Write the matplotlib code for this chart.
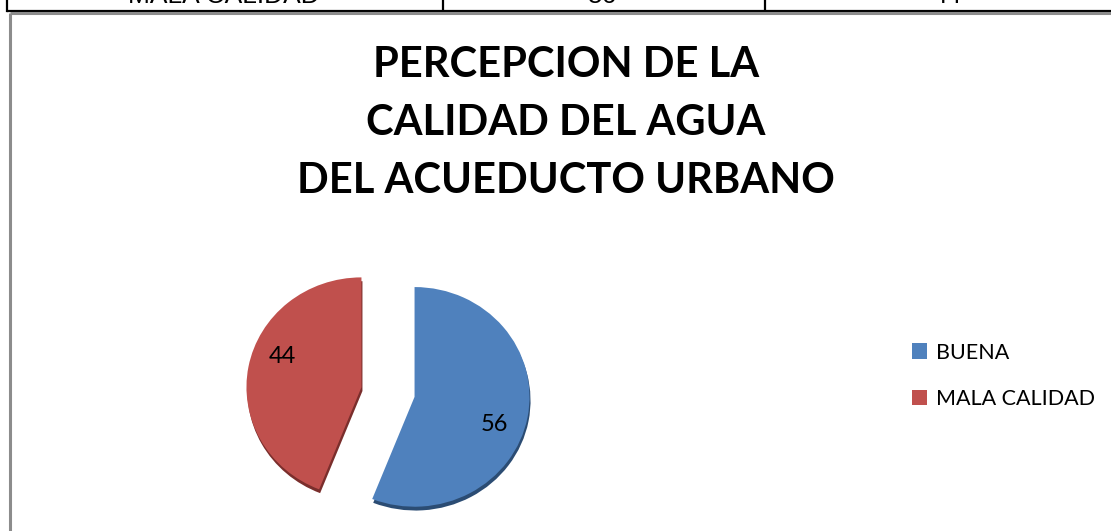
import numpy as np
import matplotlib.pyplot as plt

# datos de la encuesta
categorias = ['BUENA', 'MALA CALIDAD']
valores = [56, 44]
colores = ['#4F81BD', '#C0504D']
colores_borde = ['#2B4C73', '#7A2E2C']

titulo = 'PERCEPCION DE LA\nCALIDAD DEL AGUA\nDEL ACUEDUCTO URBANO'

# fila de la tabla que queda por encima del grafico
fila_tabla = ['MALA CALIDAD', '56', '44']

W, H = 1111, 531
fig = plt.figure(figsize=(W / 100, H / 100), dpi=100)
fig.patch.set_facecolor('white')
ax = fig.add_axes([0, 0, 1, 1])
ax.set_xlim(0, W)
ax.set_ylim(0, H)
ax.axis('off')

# tabla: ultima fila, cortada en el borde superior
ax.plot([7, W], [H - 10.5, H - 10.5], color='black', lw=1.6, solid_capstyle='butt')
for xv in [7, 443, 765]:
    ax.plot([xv, xv], [H - 10.5, H + 2], color='black', lw=1.6)
for xt, txt in zip([224, 603, 947], fila_tabla):
    ax.text(xt, H - 3, txt, ha='center', va='baseline', fontsize=19,
            family='Liberation Sans', color='black')

# marco del grafico
ax.plot([9.5, 9.5], [0, H - 12.5], color='#8C8C8C', lw=2.2, solid_capstyle='butt')
ax.plot([9.5, W], [H - 12.5, H - 12.5], color='#8C8C8C', lw=2.2, solid_capstyle='butt')

# titulo
ax.text(566, H - 123, titulo, ha='center', va='center', fontsize=30,
        family='Lato', fontweight='bold', linespacing=1.65, color='black')

# pastel en su propio eje, algo achatado en vertical (inclinacion 3D)
axp = fig.add_axes([0, 0, 1, 1])
axp.axis('off')
achatado = 0.955
radio = 115
separacion = [0.235 * radio, 0.235 * radio]

axp.pie(valores, colors=colores_borde, startangle=90, counterclock=False,
        explode=separacion, center=(1, -4), radius=radio,
        wedgeprops=dict(linewidth=0))
total = sum(valores)
cunas, _, etiquetas = axp.pie(
    valores, colors=colores, startangle=90, counterclock=False,
    explode=separacion, center=(0, 0), radius=radio,
    autopct=lambda p: f'{p * total / 100:.0f}', pctdistance=0.74,
    wedgeprops=dict(linewidth=0),
    textprops=dict(fontsize=17, family='Lato', color='black'))

# posicion de las etiquetas dentro de cada porcion
for cuna, etiqueta, ang in zip(cunas, etiquetas, [-20, 158]):
    cx, cy = cuna.center
    a = np.radians(ang)
    etiqueta.set_position((cx + 0.74 * radio * np.cos(a), cy + 0.74 * radio * np.sin(a)))

axp.set_aspect('auto')
x0 = -388
y0 = -145.5
axp.set_xlim(x0, x0 + W)
axp.set_ylim(y0, y0 + H / achatado)

# leyenda
ax.legend(cunas, categorias, loc='center left', bbox_to_anchor=(893 / W, 1 - 376 / H),
          bbox_transform=fig.transFigure, frameon=False,
          prop=dict(family='Lato', size=15.5), handlelength=0.7, handleheight=0.7,
          handletextpad=0.4, labelspacing=1.25)

fig.savefig('out.png', dpi=100, facecolor='white')
